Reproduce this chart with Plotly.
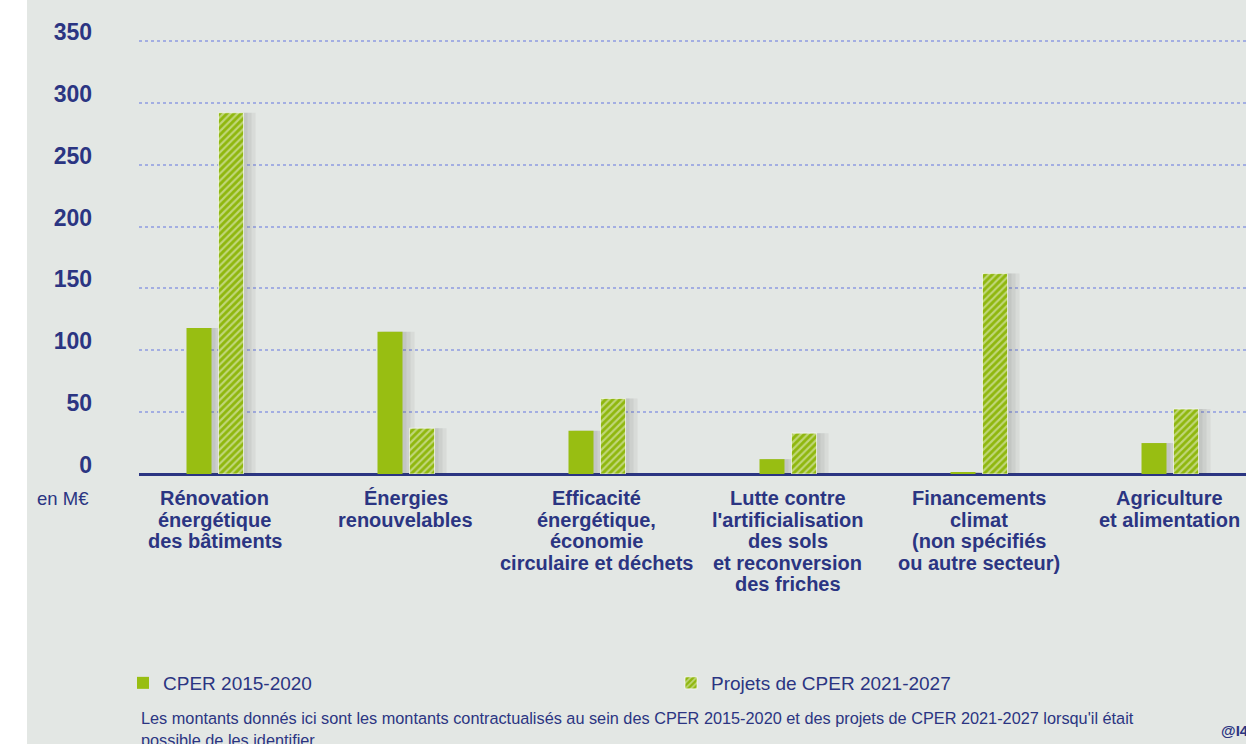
import plotly.graph_objects as go

categories = [
    "Rénovation énergétique des bâtiments",
    "Énergies renouvelables",
    "Efficacité énergétique, économie circulaire et déchets",
    "Lutte contre l'artificialisation des sols et reconversion des friches",
    "Financements climat (non spécifiés ou autre secteur)",
    "Agriculture et alimentation",
]
label_lines = [
    ["Rénovation", "énergétique", "des bâtiments"],
    ["Énergies", "renouvelables"],
    ["Efficacité", "énergétique,", "économie", "circulaire et déchets"],
    ["Lutte contre", "l'artificialisation", "des sols", "et reconversion", "des friches"],
    ["Financements", "climat", "(non spécifiés", "ou autre secteur)"],
    ["Agriculture", "et alimentation"],
]
cper_2015_2020 = [118, 115, 35, 12, 1.6, 25]
cper_2021_2027 = [292, 37, 61, 33, 162, 52.5]
series_names = ["CPER 2015-2020", "Projets de CPER 2021-2027"]
y_ticks = [0, 50, 100, 150, 200, 250, 300, 350]

NAVY = "#2b3582"
GREEN = "#98be12"
BG = "#e3e7e4"
FONT = "Liberation Sans"

W, H = 1246, 744
L, T, B = 139, 0, 270
PH = H - T - B  # plot height in px
PW = W - L
CAT_PX = 191.0
C0 = 214.5

def px_x(p):
    return (p - L) / PW

def px_y(p):
    return (T + PH - p) / PH

bw = 25 / CAT_PX
off1 = -28 / CAT_PX
off2 = 4 / CAT_PX

fig = go.Figure()

# soft shadows
for vals, off in [(cper_2015_2020, off1), (cper_2021_2027, off2)]:
    for k in [1, 2, 3]:
        fig.add_trace(go.Bar(
            x=categories, y=vals, width=bw + (2 * k) / CAT_PX, offset=off + (2 * k) / CAT_PX,
            marker=dict(color="rgba(70,70,70,0.07)", line=dict(width=0)),
            showlegend=False, hoverinfo="skip",
        ))

fig.add_trace(go.Bar(
    x=categories, y=cper_2015_2020, name=series_names[0],
    width=bw, offset=off1,
    marker=dict(color=GREEN, line=dict(width=0)),
))
fig.add_trace(go.Bar(
    x=categories, y=cper_2021_2027, name=series_names[1],
    width=bw, offset=off2,
    marker=dict(color="#93ba10", line=dict(width=0.8, color="rgba(255,255,255,0.8)"),
                pattern=dict(shape="/", fgcolor="#f2f6e4", bgcolor="#8fb70e",
                             size=5, solidity=0.42, fillmode="overlay")),
))

annotations = []
for cat, lines in zip(categories, label_lines):
    for i, ln in enumerate(lines):
        annotations.append(dict(
            x=cat, xref="x", y=0, yref="paper", yanchor="middle", xanchor="center",
            yshift=-(24 + 21.5 * i), text=f"<b>{ln}</b>", showarrow=False,
            font=dict(family=FONT, size=20, color=NAVY),
        ))

annotations.append(dict(
    x=px_x(91), xref="paper", y=px_y(498), yref="paper", xanchor="right", yanchor="middle",
    text="en M€", showarrow=False, font=dict(family=FONT, size=18.5, color=NAVY),
))
annotations.append(dict(
    x=0, xref="paper", y=px_y(718), yref="paper", xanchor="left", yanchor="middle",
    text="Les montants donnés ici sont les montants contractualisés au sein des CPER 2015-2020 et des projets de CPER 2021-2027 lorsqu'il était",
    showarrow=False, font=dict(family=FONT, size=16.3, color=NAVY),
))
annotations.append(dict(
    x=0, xref="paper", y=px_y(740), yref="paper", xanchor="left", yanchor="middle",
    text="possible de les identifier.",
    showarrow=False, font=dict(family=FONT, size=16.3, color=NAVY),
))
annotations.append(dict(
    x=px_x(1219), xref="paper", y=px_y(730), yref="paper", xanchor="left", yanchor="middle",
    text="<b>@I4CE</b>", showarrow=False, font=dict(family=FONT, size=15, color=NAVY),
))

shapes = [dict(
    type="rect", xref="paper", yref="paper",
    x0=px_x(-5), x1=px_x(27), y0=px_y(H + 10), y1=px_y(-10),
    fillcolor="white", line=dict(width=0), layer="below",
)]

fig.update_layout(
    width=W, height=H,
    margin=dict(l=L, r=0, t=T, b=B),
    paper_bgcolor=BG, plot_bgcolor=BG,
    barmode="overlay",
    font=dict(family=FONT, color=NAVY),
    showlegend=True,
    legend=dict(
        orientation="h", x=px_x(123), xanchor="left", y=px_y(683), yanchor="middle",
        font=dict(family=FONT, size=19, color=NAVY), entrywidth=503, entrywidthmode="pixels",
        bgcolor="rgba(0,0,0,0)", itemclick=False, itemdoubleclick=False,
    ),
    xaxis=dict(
        categoryorder="array", categoryarray=categories,
        range=[(L - C0) / CAT_PX, (W - C0) / CAT_PX],
        showticklabels=False, showgrid=False, zeroline=False, showline=False, ticks="",
        fixedrange=True,
    ),
    yaxis=dict(
        range=[0, PH / ((474 - 41) / 350)],
        tickvals=y_ticks, ticktext=[f"<b>{v}</b>" for v in y_ticks],
        tickfont=dict(family=FONT, size=23, color=NAVY),
        showgrid=True, gridcolor="#a3aee2", gridwidth=2, griddash="dot",
        zeroline=True, zerolinecolor=NAVY, zerolinewidth=3,
        showline=False, ticks="", ticklabelstandoff=46, ticklabelshift=-9,
        fixedrange=True,
    ),
    annotations=annotations,
    shapes=shapes,
)

fig.write_html(
    "out.html",
    config={"displayModeBar": False},
    post_script="document.body.style.margin='0';document.body.style.overflow='hidden';",
)
